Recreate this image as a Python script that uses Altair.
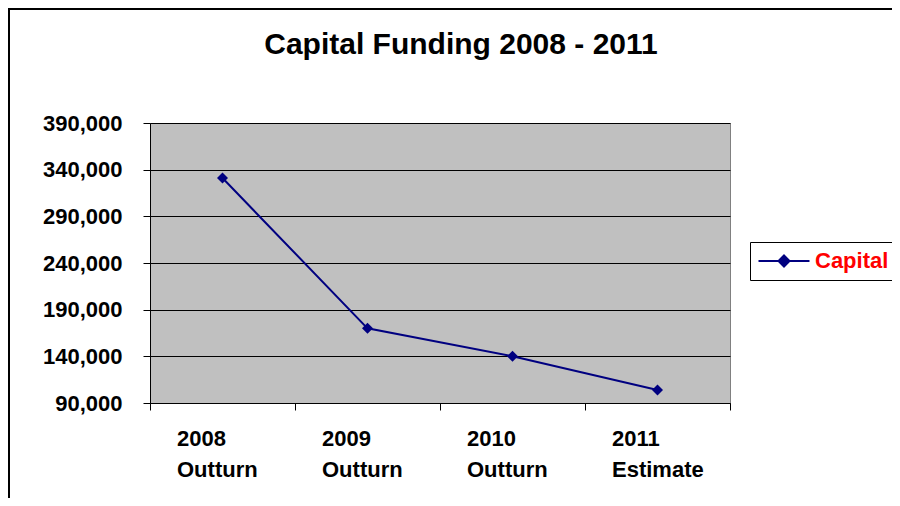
import altair as alt
import pandas as pd

# ---- data ----
years = ["2008", "2009", "2010", "2011"]
kinds = ["Outturn", "Outturn", "Outturn", "Estimate"]
capital = [331000, 170000, 140000, 104000]
y_ticks = [90000, 140000, 190000, 240000, 290000, 340000, 390000]
series_name = "Capital"
title_text = "Capital Funding 2008 - 2011"

df = pd.DataFrame({
    "category": [f"{y}|{k}" for y, k in zip(years, kinds)],
    "value": capital,
    "series": [series_name] * len(years),
})

FONT = "Liberation Sans, Arial, sans-serif"
NAVY = "#000080"
W, H = 580, 280

x_enc = alt.X(
    "category:N", sort=None, title=None,
    scale=alt.Scale(type="band", paddingInner=0, paddingOuter=0),
    axis=alt.Axis(
        labelExpr="split(datum.label, '|')", labelAngle=0,
        labelAlign="left", labelOffset=-46, labelBaseline="top",
        labelPadding=18, labelLineHeight=31, labelFont=FONT,
        labelFontSize=22, labelFontWeight="bold", labelColor="black",
        labelOverlap=False, tickBand="extent", tickSize=7,
        tickColor="black", domainColor="black", grid=False,
    ),
)
y_enc = alt.Y(
    "value:Q", title=None,
    scale=alt.Scale(domain=[90000, 390000], nice=False, zero=False),
    axis=alt.Axis(
        values=y_ticks, format=",.0f", labelFont=FONT, labelFontSize=22,
        labelFontWeight="bold", labelColor="black", labelPadding=21,
        tickSize=7, tickColor="black", domainColor="black",
        grid=True, gridColor="black", gridWidth=1,
    ),
)

legend_path = "M -5 0 L 5 0 M 0 -1.08 L 1.08 0 L 0 1.08 L -1.08 0 Z"

line = alt.Chart(df).mark_line(strokeWidth=2).encode(
    x=x_enc, y=y_enc,
    color=alt.Color(
        "series:N", scale=alt.Scale(range=[NAVY]),
        legend=alt.Legend(
            title=None, orient="none", legendX=600, legendY=119,
            symbolType=legend_path, symbolSize=104, symbolStrokeWidth=2,
            symbolFillColor=NAVY, symbolStrokeColor=NAVY,
            symbolOffset=15, labelOffset=20,
            labelColor="#FF0000", labelFont=FONT, labelFontSize=22,
            labelFontWeight="bold", strokeColor="black", fillColor="white",
            padding=8,
        ),
    ),
)

points = alt.Chart(df).mark_point(
    shape="diamond", filled=True, size=121, color=NAVY, opacity=1
).encode(x=x_enc, y=y_enc)

border = alt.Chart(alt.Data(values=[{}])).mark_rect(
    fillOpacity=0, stroke="black", strokeWidth=2
).encode(
    x=alt.value(-141), x2=alt.value(780),
    y=alt.value(-114), y2=alt.value(420),
)

chart = alt.layer(line, points, border).properties(
    width=W, height=H,
    title=alt.TitleParams(
        text=title_text, font=FONT, fontSize=30, fontWeight="bold",
        color="black", anchor="middle", frame="group", dx=21,
        baseline="alphabetic", offset=-76,
    ),
    padding={"left": 142, "top": 115, "right": 162, "bottom": 95},
    autosize=alt.AutoSizeParams(type="none"),
    background="white",
).configure_view(fill="#C0C0C0", stroke="#808080", strokeWidth=1)

chart.save("out.html", embed_options={"renderer": "svg", "actions": False})
